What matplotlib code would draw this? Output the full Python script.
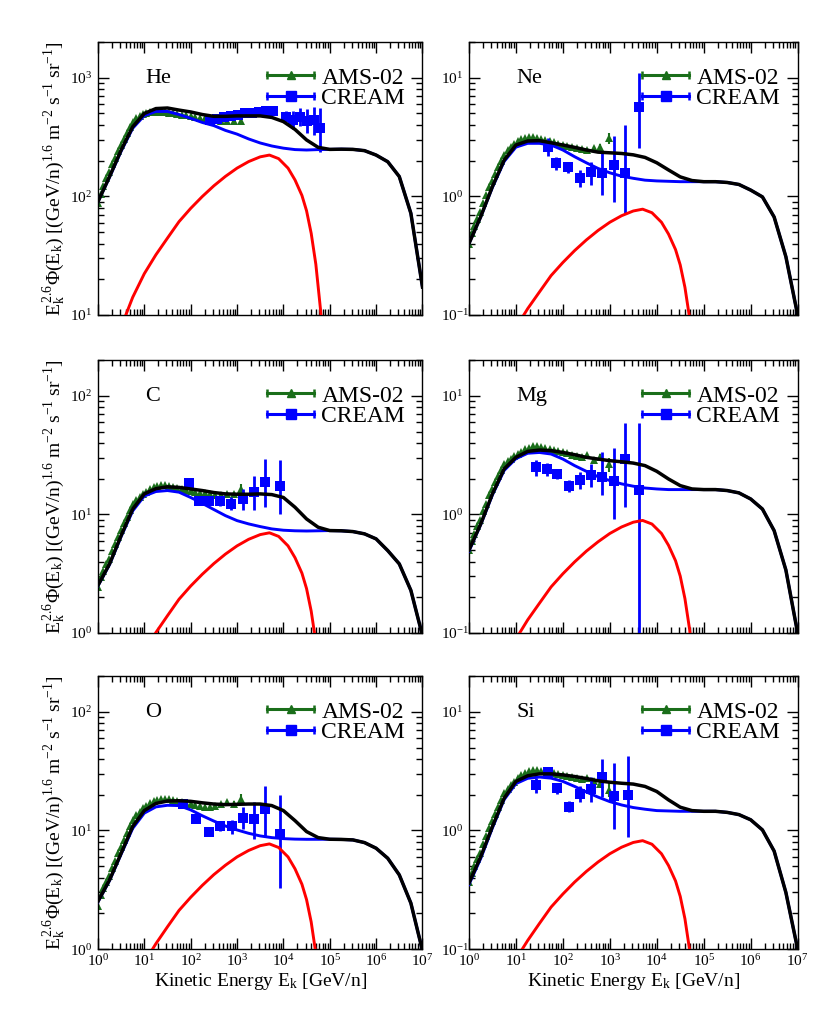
import matplotlib
matplotlib.use('Agg')
import math
import matplotlib.pyplot as plt
from matplotlib.lines import Line2D
from matplotlib.legend_handler import HandlerBase
from matplotlib.ticker import LogLocator, NullFormatter, FuncFormatter

plt.rcParams['font.family'] = ['Liberation Serif', 'DejaVu Serif']
plt.rcParams['mathtext.fontset'] = 'custom'
plt.rcParams['mathtext.rm'] = 'Liberation Serif'
plt.rcParams['mathtext.it'] = 'Liberation Serif:italic'
plt.rcParams['mathtext.bf'] = 'Liberation Serif:bold'

# ---- model curves: background (blue), total (black) on a common energy grid
MODEL_E = [1.0, 1.78, 3.16, 5.62, 10, 17.8, 31.6, 56.2, 100, 178, 316, 562,
           1e3, 1.78e3, 3.16e3, 5.62e3, 1e4, 1.78e4, 3.16e4, 5.62e4, 1e5,
           1.78e5, 3.16e5, 5.62e5, 1e6, 1.78e6, 3.16e6, 5.62e6, 1e7]
# extra source component (red)
RED_E = [3.16, 5.62, 10, 17.8, 31.6, 56.2, 100, 178, 316, 562, 1e3, 1.78e3,
         3.16e3, 5.0e3, 7.9e3, 1.26e4, 1.78e4, 2.51e4, 3.16e4, 3.98e4,
         5.01e4, 6.31e4, 7.94e4]

TOT_HE = [90, 147, 245, 386, 500, 550, 556, 534, 515, 490, 473, 473, 477, 477,
          477, 463, 427, 367, 299, 259, 249, 250, 249, 243, 223, 196, 147, 72, 17.2]
BKG_HE = [90, 145, 240, 375, 480, 520, 520, 490, 455, 420, 395, 360, 335, 305,
          282, 266, 255, 248, 246, 248, 249, 250, 249, 243, 223, 196, 147, 72, 17.2]
RED_HE = [7.9, 14.1, 22.3, 32.2, 44.5, 61.3, 79.2, 99.7, 122.7, 147.4, 173,
          196.5, 215.4, 223, 208, 173, 137.6, 101.9, 75.6, 48.8, 26.8, 11.2, 3.5]

TOT_NE = [0.40, 0.675, 1.21, 2.02, 2.71, 2.93, 2.95, 2.83, 2.71, 2.59, 2.46,
          2.36, 2.33, 2.30, 2.24, 2.13, 1.92, 1.67, 1.46, 1.36, 1.33, 1.33,
          1.31, 1.26, 1.13, 0.99, 0.67, 0.31, 0.10]
BKG_NE = [0.40, 0.67, 1.19, 1.97, 2.60, 2.80, 2.80, 2.71, 2.46, 2.16, 1.92,
          1.72, 1.58, 1.48, 1.42, 1.37, 1.35, 1.34, 1.33, 1.33, 1.33, 1.33,
          1.31, 1.26, 1.13, 0.99, 0.67, 0.31, 0.10]
RED_NE = [0.0277, 0.0492, 0.078, 0.113, 0.156, 0.215, 0.277, 0.349, 0.429,
          0.516, 0.605, 0.687, 0.753, 0.78, 0.728, 0.605, 0.481, 0.356, 0.264,
          0.171, 0.094, 0.039, 0.012]

TOT_C = [2.52, 3.83, 6.63, 11.1, 14.9, 16.5, 17.1, 16.9, 16.4, 15.9, 15.3,
         14.9, 14.8, 14.8, 14.9, 14.7, 13.9, 11.5, 9.16, 7.8, 7.31, 7.28, 7.17,
         6.86, 6.22, 4.96, 3.83, 2.29, 0.95]
BKG_C = [2.50, 3.78, 6.5, 10.7, 14.3, 15.6, 15.9, 15.4, 13.9, 12.4, 11.0, 9.77,
         8.87, 8.32, 7.9, 7.55, 7.36, 7.28, 7.25, 7.28, 7.31, 7.28, 7.17, 6.86,
         6.22, 4.96, 3.83, 2.29, 0.95]
RED_C = [0.25, 0.44, 0.70, 1.01, 1.40, 1.93, 2.49, 3.13, 3.85, 4.63, 5.43, 6.17,
         6.76, 7.0, 6.53, 5.43, 4.32, 3.20, 2.37, 1.53, 0.84, 0.35, 0.11]

TOT_MG = [0.50, 0.83, 1.49, 2.42, 3.03, 3.40, 3.49, 3.45, 3.33, 3.19, 3.03,
          2.93, 2.84, 2.78, 2.71, 2.58, 2.31, 1.99, 1.75, 1.64, 1.62, 1.62,
          1.59, 1.52, 1.35, 1.11, 0.73, 0.34, 0.10]
BKG_MG = [0.49, 0.82, 1.46, 2.35, 2.95, 3.28, 3.33, 3.23, 2.93, 2.58, 2.31,
          2.08, 1.93, 1.81, 1.73, 1.67, 1.64, 1.62, 1.62, 1.62, 1.62, 1.62,
          1.59, 1.52, 1.35, 1.11, 0.73, 0.34, 0.10]
RED_MG = [0.0316, 0.0562, 0.089, 0.129, 0.178, 0.245, 0.316, 0.398, 0.490,
          0.588, 0.691, 0.784, 0.860, 0.89, 0.830, 0.691, 0.549, 0.407, 0.302,
          0.195, 0.107, 0.045, 0.014]

TOT_O = [2.52, 3.83, 6.42, 10.8, 14.7, 16.9, 17.7, 17.8, 17.6, 17.1, 16.7,
         16.5, 16.6, 16.7, 16.7, 16.2, 14.7, 12.1, 9.78, 8.7, 8.43, 8.4, 8.32,
         7.9, 7.08, 5.83, 4.22, 2.44, 0.97]
BKG_O = [2.50, 3.78, 6.3, 10.4, 14.0, 15.8, 16.3, 16.2, 14.9, 13.3, 12.0, 10.9,
         10.1, 9.46, 8.99, 8.7, 8.53, 8.45, 8.42, 8.42, 8.43, 8.4, 8.32, 7.9,
         7.08, 5.83, 4.22, 2.44, 0.97]
RED_O = [0.27, 0.49, 0.77, 1.11, 1.54, 2.12, 2.73, 3.44, 4.24, 5.09, 5.98, 6.78,
         7.44, 7.7, 7.18, 5.98, 4.75, 3.52, 2.61, 1.69, 0.92, 0.39, 0.12]

TOT_SI = [0.36, 0.60, 1.08, 1.87, 2.59, 2.89, 3.0, 3.0, 2.94, 2.85, 2.74, 2.62,
          2.55, 2.50, 2.46, 2.35, 2.13, 1.81, 1.57, 1.47, 1.45, 1.45, 1.42,
          1.36, 1.23, 1.01, 0.67, 0.30, 0.10]
BKG_SI = [0.35, 0.58, 1.05, 1.82, 2.48, 2.75, 2.82, 2.76, 2.59, 2.35, 2.11,
          1.91, 1.75, 1.64, 1.56, 1.51, 1.47, 1.46, 1.45, 1.45, 1.45, 1.45,
          1.42, 1.36, 1.23, 1.01, 0.67, 0.30, 0.10]
RED_SI = [0.0291, 0.0517, 0.082, 0.118, 0.164, 0.226, 0.291, 0.367, 0.451,
          0.542, 0.636, 0.722, 0.792, 0.82, 0.765, 0.636, 0.506, 0.375, 0.278,
          0.180, 0.098, 0.041, 0.013]

# ---- AMS-02 data
AMS_E_LIGHT = [1.0, 1.15, 1.3, 1.5, 1.7, 2.0, 2.3, 2.7, 3.1, 3.6, 4.2, 4.9, 5.7,
               6.7, 7.9, 9.3, 11, 13, 16, 19, 23, 28, 34, 42, 52, 65, 80, 100,
               125, 160, 200, 260, 330, 450, 620, 850, 1200]
AMS_E_HEAVY = [1.0, 1.15, 1.3, 1.5, 1.7, 2.0, 2.3, 2.7, 3.1, 3.6, 4.2, 4.9, 5.7,
               6.7, 7.9, 9.3, 11, 13, 16, 19, 23, 28, 34, 42, 52, 65, 80, 100,
               125, 160, 200, 260, 330, 450, 620, 950]

AMS_HE = [88, 105, 122, 142, 160, 186, 211, 243, 272, 307, 344, 385, 426, 455,
          476, 492, 503, 510, 515, 517, 515, 512, 507, 500, 494, 487, 481, 475,
          469, 462, 455, 448, 442, 436, 431, 430, 432]
AMS_ERR_HE = [2, 2, 2, 3, 3, 3, 3, 4, 4, 4, 5, 5, 5, 5, 5, 5, 5, 5, 5, 5, 5, 5,
              5, 5, 5, 5, 5, 5, 6, 6, 7, 8, 10, 12, 15, 20, 28]

AMS_NE = [0.40, 0.49, 0.56, 0.64, 0.74, 0.88, 1.03, 1.19, 1.35, 1.55, 1.77,
          1.99, 2.23, 2.44, 2.62, 2.78, 2.92, 3.02, 3.10, 3.14, 3.14, 3.11,
          3.06, 3.0, 2.93, 2.86, 2.79, 2.72, 2.66, 2.60, 2.55, 2.51, 2.48, 2.55,
          2.62, 3.1]
AMS_ERR_NE = [0.01, 0.01, 0.01, 0.01, 0.01, 0.015, 0.015, 0.02, 0.02, 0.02,
              0.02, 0.02, 0.02, 0.02, 0.02, 0.02, 0.02, 0.02, 0.02, 0.02, 0.02,
              0.02, 0.02, 0.02, 0.03, 0.03, 0.03, 0.03, 0.04, 0.04, 0.05, 0.06,
              0.08, 0.1, 0.15, 0.32]

AMS_C = [2.45, 2.99, 3.36, 3.79, 4.18, 4.89, 5.59, 6.5, 7.33, 8.4, 9.55, 10.9,
         12.2, 13.2, 14.0, 14.9, 15.6, 16.3, 17.0, 17.4, 17.6, 17.6, 17.4, 17.1,
         16.8, 16.5, 16.2, 15.9, 15.6, 15.3, 15.1, 14.9, 14.7, 14.5, 15.0, 14.8,
         16.5]
AMS_ERR_C = [0.05, 0.05, 0.06, 0.06, 0.07, 0.08, 0.08, 0.1, 0.1, 0.1, 0.12,
             0.12, 0.14, 0.14, 0.15, 0.15, 0.15, 0.15, 0.16, 0.16, 0.16, 0.16,
             0.16, 0.16, 0.16, 0.16, 0.17, 0.17, 0.18, 0.2, 0.22, 0.25, 0.3,
             0.4, 0.55, 0.8, 1.4]

AMS_MG = [0.50, 0.60, 0.69, 0.80, 0.90, 1.07, 1.23, 1.45, 1.65, 1.88, 2.12,
          2.39, 2.65, 2.80, 2.95, 3.10, 3.22, 3.38, 3.55, 3.65, 3.75, 3.74,
          3.70, 3.65, 3.58, 3.50, 3.42, 3.35, 3.27, 3.20, 3.12, 3.05, 3.2, 2.9,
          3.05, 2.65]
AMS_ERR_MG = [0.01, 0.01, 0.01, 0.015, 0.015, 0.02, 0.02, 0.02, 0.02, 0.03,
              0.03, 0.03, 0.03, 0.03, 0.03, 0.03, 0.03, 0.03, 0.03, 0.03, 0.03,
              0.03, 0.03, 0.03, 0.04, 0.04, 0.04, 0.04, 0.05, 0.05, 0.06, 0.08,
              0.12, 0.15, 0.2, 0.35]

AMS_O = [2.30, 2.85, 3.25, 3.7, 4.1, 4.8, 5.5, 6.4, 7.25, 8.3, 9.5, 10.9, 12.3,
         13.4, 14.4, 15.4, 16.2, 17.0, 17.7, 18.2, 18.5, 18.5, 18.3, 18.0, 17.6,
         17.3, 17.0, 16.7, 16.4, 16.1, 15.9, 15.7, 16.0, 16.6, 17.3, 16.6, 18.5]
AMS_ERR_O = [0.05, 0.05, 0.06, 0.06, 0.07, 0.08, 0.08, 0.1, 0.1, 0.1, 0.12,
             0.12, 0.14, 0.14, 0.15, 0.15, 0.15, 0.15, 0.16, 0.16, 0.16, 0.16,
             0.16, 0.16, 0.16, 0.16, 0.17, 0.17, 0.18, 0.2, 0.22, 0.25, 0.35,
             0.6, 0.9, 1.2, 1.8]

AMS_SI = [0.37, 0.44, 0.50, 0.58, 0.65, 0.77, 0.89, 1.05, 1.19, 1.38, 1.59,
          1.82, 2.05, 2.24, 2.41, 2.58, 2.78, 2.93, 3.07, 3.16, 3.21, 3.22,
          3.20, 3.16, 3.10, 3.04, 2.98, 2.92, 2.86, 2.80, 2.76, 2.72, 2.75, 2.6,
          2.45, 2.2]
AMS_ERR_SI = [0.01, 0.01, 0.01, 0.01, 0.015, 0.015, 0.02, 0.02, 0.02, 0.02,
              0.03, 0.03, 0.03, 0.03, 0.03, 0.03, 0.03, 0.03, 0.03, 0.03, 0.03,
              0.03, 0.03, 0.03, 0.04, 0.04, 0.04, 0.04, 0.05, 0.05, 0.06, 0.08,
              0.1, 0.13, 0.18, 0.3]

# ---- CREAM data (value, lower and upper end of error bar)
CREAM_E_HE = [263, 372, 525, 741, 1047, 1479, 2089, 2951, 4169, 5888, 11220,
              15849, 22387, 31623, 44668, 61660]
CREAM_HE = [440, 450, 465, 478, 490, 500, 508, 515, 520, 525, 470, 440, 470,
            430, 440, 375]
CREAM_LO_HE = [428, 438, 452, 464, 475, 484, 490, 495, 498, 500, 420, 370, 390,
               340, 330, 236]
CREAM_HI_HE = [452, 462, 478, 492, 505, 516, 526, 535, 542, 550, 525, 520, 560,
               550, 570, 555]

CREAM_E_NE = [48, 72, 129, 230, 400, 690, 1200, 2130, 4140]
CREAM_NE = [2.62, 1.92, 1.78, 1.42, 1.61, 1.56, 1.84, 1.58, 5.62]
CREAM_LO_NE = [2.2, 1.67, 1.58, 1.21, 1.25, 1.03, 0.9, 0.73, 2.54]
CREAM_HI_NE = [3.1, 2.15, 1.96, 1.67, 1.96, 2.3, 3.2, 3.97, 11.0]

CREAM_E_C = [93, 154, 250, 437, 755, 1370, 2330, 4080, 8300]
CREAM_C = [18.3, 13.1, 12.9, 12.9, 12.3, 13.5, 15.4, 18.9, 17.3]
CREAM_LO_C = [16.9, 12.1, 11.9, 11.7, 11.0, 10.8, 10.9, 11.5, 10.0]
CREAM_HI_C = [19.9, 14.2, 14.0, 14.3, 14.0, 16.4, 21.2, 29.3, 29.0]

CREAM_E_MG = [27, 47, 75, 133, 233, 400, 690, 1200, 2150, 4140]
CREAM_MG = [2.49, 2.42, 2.19, 1.75, 1.95, 2.16, 2.08, 1.93, 2.93, 1.61]
CREAM_LO_MG = [2.11, 2.12, 1.98, 1.54, 1.64, 1.69, 1.45, 0.91, 1.15, 0.05]
CREAM_HI_MG = [2.87, 2.73, 2.42, 1.96, 2.27, 2.66, 3.33, 3.62, 5.9, 5.9]

CREAM_E_O = [68, 131, 250, 437, 765, 1350, 2350, 4080, 8300]
CREAM_O = [16.7, 12.4, 9.78, 10.9, 10.9, 12.7, 12.4, 15.1, 9.35]
CREAM_LO_O = [15.6, 11.6, 9.15, 9.8, 9.3, 10.2, 8.4, 8.9, 3.26]
CREAM_HI_O = [17.8, 13.3, 10.4, 12.0, 12.2, 15.7, 17.4, 23.6, 19.9]

CREAM_E_SI = [27, 48, 75, 133, 233, 400, 690, 1200, 2450]
CREAM_SI = [2.43, 3.14, 2.28, 1.59, 2.04, 2.23, 2.81, 1.94, 2.0]
CREAM_LO_SI = [2.07, 2.75, 2.04, 1.42, 1.73, 1.75, 1.93, 1.02, 0.88]
CREAM_HI_SI = [2.75, 3.45, 2.52, 1.78, 2.35, 2.84, 3.99, 3.7, 4.27]

PANELS = [
    ('He', (10, 2000), TOT_HE, BKG_HE, RED_HE, AMS_E_LIGHT, AMS_HE, AMS_ERR_HE,
     CREAM_E_HE, CREAM_HE, CREAM_LO_HE, CREAM_HI_HE),
    ('Ne', (0.1, 20), TOT_NE, BKG_NE, RED_NE, AMS_E_HEAVY, AMS_NE, AMS_ERR_NE,
     CREAM_E_NE, CREAM_NE, CREAM_LO_NE, CREAM_HI_NE),
    ('C', (1, 200), TOT_C, BKG_C, RED_C, AMS_E_LIGHT, AMS_C, AMS_ERR_C,
     CREAM_E_C, CREAM_C, CREAM_LO_C, CREAM_HI_C),
    ('Mg', (0.1, 20), TOT_MG, BKG_MG, RED_MG, AMS_E_HEAVY, AMS_MG, AMS_ERR_MG,
     CREAM_E_MG, CREAM_MG, CREAM_LO_MG, CREAM_HI_MG),
    ('O', (1, 200), TOT_O, BKG_O, RED_O, AMS_E_LIGHT, AMS_O, AMS_ERR_O,
     CREAM_E_O, CREAM_O, CREAM_LO_O, CREAM_HI_O),
    ('Si', (0.1, 20), TOT_SI, BKG_SI, RED_SI, AMS_E_HEAVY, AMS_SI, AMS_ERR_SI,
     CREAM_E_SI, CREAM_SI, CREAM_LO_SI, CREAM_HI_SI),
]

GREEN = '#1a6e1a'
BLUE = '#0000ff'


class CapLineHandler(HandlerBase):
    # legend entry: |--marker--|  like the xmgrace legend
    def create_artists(self, legend, orig_handle, xdescent, ydescent, width,
                       height, fontsize, trans):
        y = height / 2 - ydescent
        x0, x1 = -xdescent, width - xdescent
        c = orig_handle.get_color()
        line = Line2D([x0, x1], [y, y], color=c, lw=2.2)
        caps = Line2D([x0, x1], [y, y], ls='none', marker='|', ms=6, mew=1.8,
                      color=c)
        mk = Line2D([(x0 + x1) / 2], [y], ls='none',
                    marker=orig_handle.get_marker(),
                    ms=orig_handle.get_markersize(), color=c)
        for a in (line, caps, mk):
            a.set_transform(trans)
        return [line, caps, mk]


def pow_label(v, pos):
    return r'$10^{%d}$' % int(round(math.log10(v)))


fig = plt.figure(figsize=(8.3, 10.26), dpi=100)
lefts = [0.118, 0.565]
widths = [0.391, 0.396]
bottoms = [0.693, 0.383, 0.075]
height = 0.266

for i, (name, ylim, tot, bkg, red, ams_e, ams, ams_err, cr_e, cr, cr_lo,
        cr_hi) in enumerate(PANELS):
    row, col = divmod(i, 2)
    ax = fig.add_axes([lefts[col], bottoms[row], widths[col], height])
    ax.set_xscale('log')
    ax.set_yscale('log')

    ax.errorbar(ams_e, ams, yerr=ams_err, fmt='^', color=GREEN, ms=5.5,
                mew=0, elinewidth=1.5, capsize=1.8, capthick=1.3, zorder=2)
    yerr = [[v - lo for v, lo in zip(cr, cr_lo)],
            [hi - v for v, hi in zip(cr, cr_hi)]]
    ax.errorbar(cr_e, cr, yerr=yerr, fmt='s', color=BLUE, ms=7, mew=0,
                elinewidth=2.0, capsize=2, capthick=1.8, zorder=3)

    ax.plot(RED_E, red, color='#ff0000', lw=2.1, zorder=4)
    ax.plot(MODEL_E, bkg, color=BLUE, lw=2.1, zorder=5)
    ax.plot(MODEL_E, tot, color='black', lw=2.5, zorder=6)

    ax.set_xlim(1, 1e7)
    ax.set_ylim(*ylim)

    ax.xaxis.set_major_locator(LogLocator(base=10, numticks=20))
    ax.xaxis.set_minor_locator(LogLocator(base=10, subs=range(2, 10), numticks=20))
    ax.yaxis.set_major_locator(LogLocator(base=10, numticks=20))
    ax.yaxis.set_minor_locator(LogLocator(base=10, subs=range(2, 10), numticks=20))
    ax.xaxis.set_minor_formatter(NullFormatter())
    ax.yaxis.set_minor_formatter(NullFormatter())
    ax.yaxis.set_major_formatter(FuncFormatter(pow_label))
    if row == 2:
        ax.xaxis.set_major_formatter(FuncFormatter(pow_label))
        ax.set_xlabel(r'Kinetic Energy E$_\mathregular{k}$ [GeV/n]',
                      fontsize=14, labelpad=1)
    else:
        ax.xaxis.set_major_formatter(NullFormatter())

    ax.tick_params(which='both', direction='in', top=True, right=True,
                   labelsize=11)
    ax.tick_params(axis='x', pad=3)
    ax.tick_params(axis='y', pad=20)
    ax.tick_params(which='major', length=8, width=1.0)
    ax.tick_params(which='minor', length=4, width=1.0)
    plt.setp(ax.get_yticklabels(), ha='left')
    for s in ax.spines.values():
        s.set_linewidth(1.0)

    if col == 0:
        ax.set_ylabel(r'$\mathregular{E_k^{\,2.6}\Phi(E_k)\ [(GeV/n)^{1.6}\ m^{-2}\ s^{-1}\ sr^{-1}]}$',
                      fontsize=14, labelpad=2)

    ax.text(0.145, 0.865, name, transform=ax.transAxes, fontsize=16,
            va='center', ha='left')

    h_ams = Line2D([], [], color=GREEN, marker='^', ms=6)
    h_cream = Line2D([], [], color=BLUE, marker='s', ms=7.5)
    ax.legend([h_ams, h_cream], ['AMS-02', 'CREAM'],
              handler_map={Line2D: CapLineHandler()}, loc='upper right',
              bbox_to_anchor=(0.99, 0.96), frameon=False, fontsize=17,
              handlelength=2.0, handletextpad=0.3, labelspacing=-0.05,
              borderaxespad=0.2)

fig.savefig('out.png', dpi=100)
